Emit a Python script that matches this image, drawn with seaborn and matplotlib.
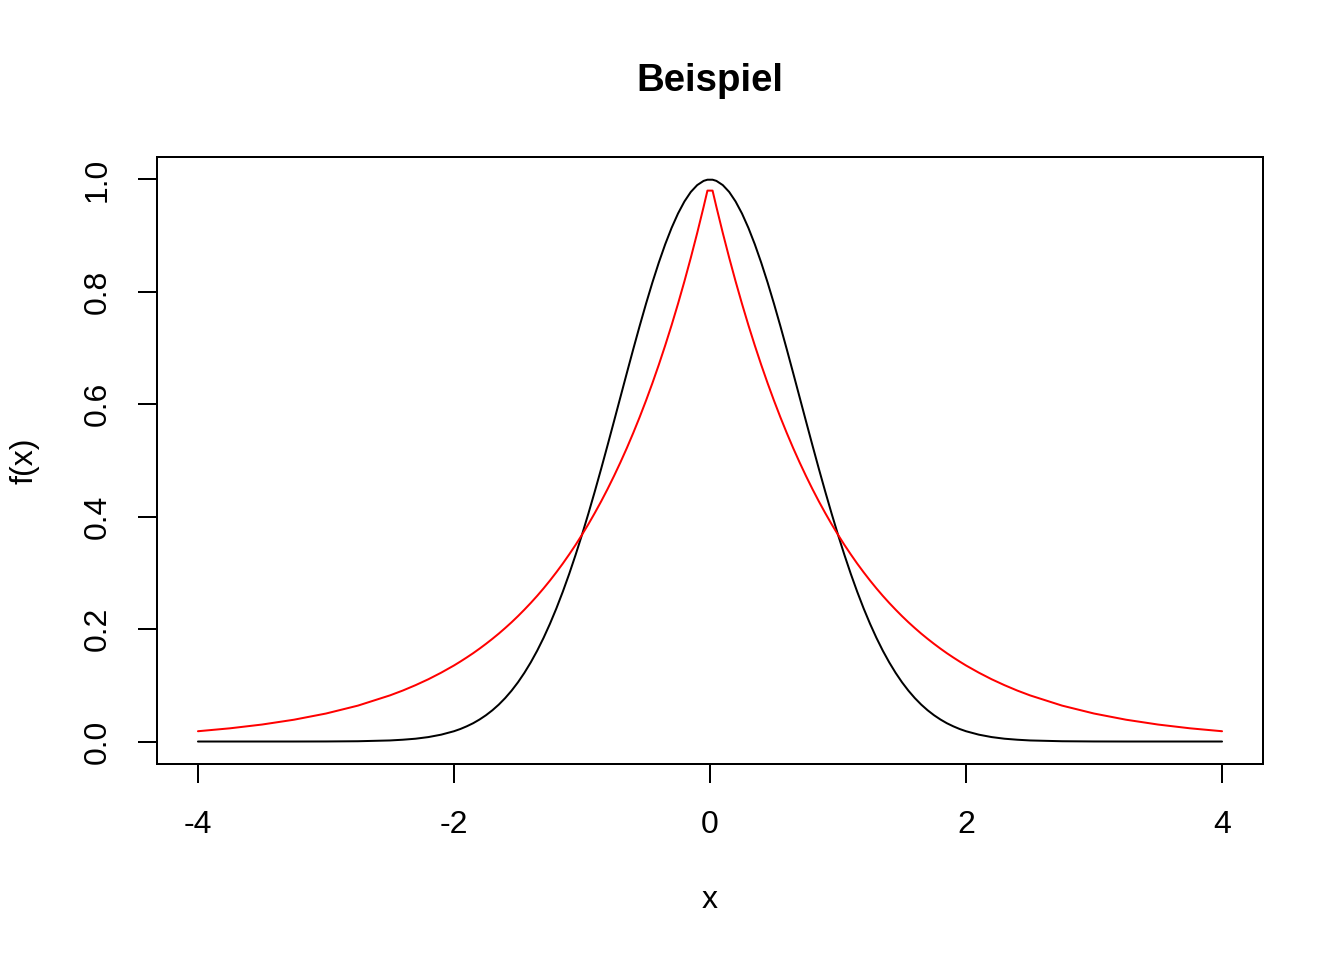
import pandas as pd
import matplotlib
matplotlib.use("Agg")
import matplotlib.pyplot as plt
import seaborn as sns

# ——— Data (right half; curves are symmetric) ———
x_pos = [0.02, 0.05, 0.10, 0.15, 0.20, 0.25, 0.30, 0.35, 0.40, 0.45,
         0.50, 0.55, 0.60, 0.65, 0.70, 0.75, 0.80, 0.85, 0.90, 0.95,
         1.00, 1.05, 1.10, 1.15, 1.20, 1.25, 1.30, 1.35, 1.40, 1.45,
         1.50, 1.55, 1.60, 1.65, 1.70, 1.75, 1.80, 1.85, 1.90, 1.95,
         2.00, 2.1, 2.2, 2.3, 2.4, 2.5, 2.75, 3.0, 3.25, 3.5, 3.75, 4.0]

black_pos = [0.9996, 0.9975, 0.9900, 0.9778, 0.9608, 0.9394, 0.9139, 0.8847, 0.8521, 0.8167,
             0.7788, 0.7390, 0.6977, 0.6554, 0.6126, 0.5698, 0.5273, 0.4855, 0.4449, 0.4056,
             0.3679, 0.3321, 0.2982, 0.2665, 0.2369, 0.2096, 0.1845, 0.1616, 0.1409, 0.1222,
             0.1054, 0.0905, 0.0773, 0.0657, 0.0556, 0.0468, 0.0392, 0.0326, 0.0271, 0.0223,
             0.0183, 0.0122, 0.0079, 0.0050, 0.0032, 0.0019, 0.0005, 0.0001, 0.0, 0.0, 0.0, 0.0]

red_pos = [0.9802, 0.9512, 0.9048, 0.8607, 0.8187, 0.7788, 0.7408, 0.7047, 0.6703, 0.6376,
           0.6065, 0.5769, 0.5488, 0.5220, 0.4966, 0.4724, 0.4493, 0.4274, 0.4066, 0.3867,
           0.3679, 0.3499, 0.3329, 0.3166, 0.3012, 0.2865, 0.2725, 0.2592, 0.2466, 0.2346,
           0.2231, 0.2122, 0.2019, 0.1920, 0.1827, 0.1738, 0.1653, 0.1572, 0.1496, 0.1423,
           0.1353, 0.1225, 0.1108, 0.1003, 0.0907, 0.0821, 0.0639, 0.0498, 0.0388, 0.0302, 0.0235, 0.0183]

# mirror to the left half
x_vals = [-v for v in reversed(x_pos)] + x_pos
black_vals = black_pos[::-1] + black_pos
red_vals = red_pos[::-1] + red_pos

x_ticks = [-4, -2, 0, 2, 4]
y_ticks = [0.0, 0.2, 0.4, 0.6, 0.8, 1.0]

df = pd.DataFrame({
    "x": x_vals * 2,
    "f(x)": black_vals + red_vals,
    "curve": ["black"] * len(x_vals) + ["red"] * len(x_vals),
})

# ——— Style ———
sns.set_style("white")
plt.rcParams["font.family"] = ["Liberation Sans", "DejaVu Sans"]
plt.rcParams["font.size"] = 12
plt.rcParams["text.color"] = "black"
plt.rcParams["axes.labelcolor"] = "black"

fig = plt.figure(figsize=(7, 5), dpi=192)
ax = fig.add_axes([157 / 1344, 1 - 764 / 960, (1263 - 157) / 1344, (764 - 157) / 960])

sns.lineplot(data=df, x="x", y="f(x)", hue="curve",
             palette={"black": "black", "red": "red"},
             sort=False, estimator=None, linewidth=0.75,
             legend=False, ax=ax)

ax.set_xlim(-4.32, 4.32)
ax.set_ylim(-0.04, 1.04)
ax.set_xticks(x_ticks)
ax.set_xticklabels([str(t) for t in x_ticks])
ax.set_yticks(y_ticks)
ax.set_yticklabels([f"{t:.1f}" for t in y_ticks], rotation=90, va="center")

ax.tick_params(axis="both", direction="out", length=7.2, width=0.75,
               color="black", labelsize=12, labelcolor="black")
ax.tick_params(axis="x", pad=10, bottom=True)
ax.tick_params(axis="y", pad=9.5, left=True)

for s in ax.spines.values():
    s.set_color("black")
    s.set_linewidth(0.75)
    s.set_visible(True)

ax.set_xlabel("x", fontsize=12, color="black")
ax.set_ylabel("f(x)", fontsize=12, color="black")
ax.xaxis.set_label_coords(0.5, -(900 - 764) / 607, transform=ax.transAxes)
ax.xaxis.label.set_va("center")
ax.yaxis.set_label_coords(-(157 - 25) / 1106, 0.5, transform=ax.transAxes)
ax.yaxis.label.set_va("center")
fig.text(710 / 1344, 1 - 81 / 960, "Beispiel", ha="center", va="center",
         fontsize=14.4, fontweight="bold", color="black")

fig.savefig("out.png", dpi=192, facecolor="white")
plt.close(fig)
